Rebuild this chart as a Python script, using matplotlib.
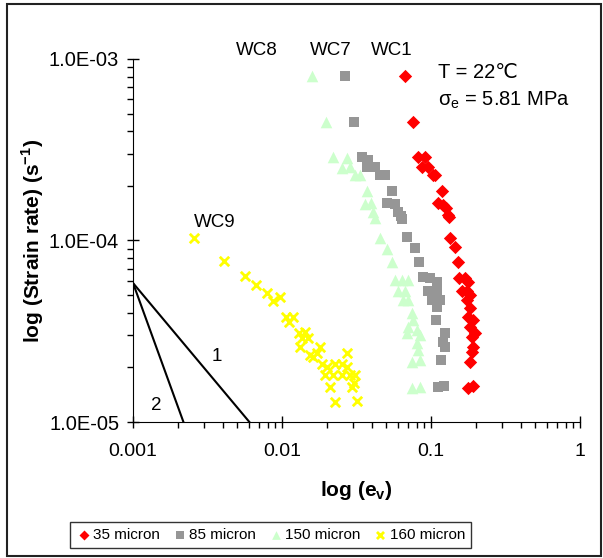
import matplotlib
matplotlib.use('Agg')
import matplotlib.pyplot as plt
from matplotlib.patches import Rectangle
from matplotlib.ticker import LogLocator, FixedLocator, NullFormatter

# 35 micron (WC1)
x35 = [0.067, 0.0754, 0.0818, 0.0911, 0.087, 0.0955, 0.103, 0.106, 0.118,
       0.111, 0.12, 0.127, 0.13, 0.132, 0.134, 0.145, 0.152,
       0.154, 0.169, 0.177, 0.161, 0.174, 0.174, 0.183,
       0.183, 0.177, 0.191, 0.183, 0.197, 0.188, 0.191, 0.188, 0.183,
       0.177, 0.191]
y35 = [8.1e-4, 4.5e-4, 2.88e-4, 2.88e-4, 2.54e-4, 2.54e-4, 2.3e-4, 2.3e-4, 1.87e-4,
       1.61e-4, 1.57e-4, 1.51e-4, 1.38e-4, 1.35e-4, 1.03e-4, 9.2e-5, 7.6e-5,
       6.2e-5, 6.2e-5, 5.9e-5, 5.3e-5, 5.3e-5, 4.7e-5, 5.0e-5,
       4.25e-5, 3.8e-5, 3.65e-5, 3.34e-5, 3.1e-5, 2.94e-5, 2.59e-5, 2.43e-5, 2.14e-5,
       1.54e-5, 1.58e-5]

# 85 micron (WC7)
x85 = [0.0265, 0.0304, 0.0343, 0.038, 0.0373, 0.0421, 0.0455, 0.0491, 0.055,
       0.0504, 0.0573, 0.06, 0.0626, 0.0636, 0.0687, 0.078, 0.0834,
       0.088, 0.0985, 0.1096, 0.0955, 0.1096, 0.1016, 0.1148, 0.1096,
       0.108, 0.124, 0.1205, 0.124, 0.1167, 0.122, 0.1114]
y85 = [8.1e-4, 4.5e-4, 2.9e-4, 2.78e-4, 2.54e-4, 2.54e-4, 2.3e-4, 2.3e-4, 1.88e-4,
       1.61e-4, 1.59e-4, 1.44e-4, 1.36e-4, 1.32e-4, 1.04e-4, 9.06e-5, 7.64e-5,
       6.3e-5, 6.2e-5, 5.9e-5, 5.3e-5, 5.27e-5, 4.7e-5, 4.7e-5, 4.3e-5,
       3.65e-5, 3.1e-5, 2.76e-5, 2.59e-5, 2.2e-5, 1.58e-5, 1.56e-5]

# 150 micron (WC8)
x150 = [0.016, 0.0197, 0.0221, 0.0272, 0.0252, 0.0286, 0.0309, 0.0334, 0.0374,
        0.0361, 0.0394, 0.0406, 0.0421, 0.0455, 0.0504, 0.0545,
        0.0573, 0.0636, 0.0705, 0.0603, 0.067, 0.0652, 0.0705,
        0.0741, 0.076, 0.0705, 0.08, 0.0687, 0.0844, 0.08, 0.082, 0.0741, 0.0844,
        0.0741, 0.0844]
y150 = [8.1e-4, 4.5e-4, 2.9e-4, 2.84e-4, 2.5e-4, 2.55e-4, 2.3e-4, 2.3e-4, 1.88e-4,
        1.59e-4, 1.6e-4, 1.44e-4, 1.33e-4, 1.03e-4, 8.95e-5, 7.6e-5,
        6.05e-5, 6.05e-5, 6.05e-5, 5.3e-5, 5.3e-5, 4.7e-5, 4.7e-5,
        3.97e-5, 3.65e-5, 3.35e-5, 3.21e-5, 3.08e-5, 3.02e-5, 2.71e-5, 2.49e-5, 2.15e-5, 2.2e-5,
        1.53e-5, 1.56e-5]

# 160 micron (WC9)
x160 = [0.00256, 0.00408, 0.00565, 0.00666, 0.00789, 0.00873, 0.0097,
        0.0107, 0.0119, 0.0112, 0.0129, 0.0143, 0.0136, 0.015, 0.0132,
        0.0154, 0.0171, 0.018, 0.0162, 0.0185, 0.02, 0.0227, 0.0252, 0.0272, 0.0272,
        0.0195, 0.0221, 0.0252, 0.0286, 0.0309, 0.021, 0.0293, 0.0302, 0.0227, 0.032]
y160 = [1.03e-4, 7.74e-5, 6.4e-5, 5.69e-5, 5.16e-5, 4.64e-5, 4.9e-5,
        3.8e-5, 3.8e-5, 3.57e-5, 3.08e-5, 3.15e-5, 2.89e-5, 2.89e-5, 2.6e-5,
        2.34e-5, 2.39e-5, 2.6e-5, 2.29e-5, 2.1e-5, 2.02e-5, 2.1e-5, 2.1e-5, 2.4e-5, 2.02e-5,
        1.82e-5, 1.82e-5, 1.82e-5, 1.82e-5, 1.82e-5, 1.56e-5, 1.56e-5, 1.63e-5, 1.29e-5, 1.3e-5]

# reference slope lines
line1_x = [0.001, 0.00604]
line1_y = [5.83e-5, 1e-5]
line2_x = [0.001, 0.00218]
line2_y = [5.83e-5, 1e-5]

plt.rcParams['font.family'] = ['Liberation Sans', 'DejaVu Sans']

fig = plt.figure(figsize=(6.03, 5.58), dpi=100)
ax = fig.add_axes([0.2206, 0.2437, 0.7413, 0.6506])

ax.plot(line1_x, line1_y, color='black', lw=1.5)
ax.plot(line2_x, line2_y, color='black', lw=1.5)

ax.scatter(x35, y35, marker='D', s=46, color='#ff0000', label='35 micron', zorder=3, linewidths=0)
ax.scatter(x85, y85, marker='s', s=58, color='#969696', label='85 micron', zorder=3, linewidths=0)
ax.scatter(x150, y150, marker='^', s=70, color='#ccffcc', label='150 micron', zorder=3, linewidths=0)
ax.scatter(x160, y160, marker='x', s=46, color='#ffff00', label='160 micron', zorder=3, linewidths=2)

ax.set_xscale('log')
ax.set_yscale('log')
ax.set_xlim(0.001, 1)
ax.set_ylim(1e-5, 1e-3)

ax.spines['top'].set_visible(False)
ax.spines['right'].set_visible(False)
ax.xaxis.set_major_locator(FixedLocator([0.001, 0.01, 0.1, 1]))
ax.set_xticklabels(['0.001', '0.01', '0.1', '1'])
ax.yaxis.set_major_locator(FixedLocator([1e-5, 1e-4, 1e-3]))
ax.set_yticklabels(['1.0E-05', '1.0E-04', '1.0E-03'])
ax.xaxis.set_minor_locator(LogLocator(base=10, subs=range(2, 10)))
ax.yaxis.set_minor_locator(LogLocator(base=10, subs=range(2, 10)))
ax.xaxis.set_minor_formatter(NullFormatter())
ax.yaxis.set_minor_formatter(NullFormatter())
ax.tick_params(which='major', direction='inout', length=8, width=1)
ax.tick_params(which='minor', direction='out', length=4, width=1)
ax.tick_params(axis='x', which='major', labelsize=14, pad=11)
ax.tick_params(axis='y', which='major', labelsize=14.5, pad=6)

ax.set_xlabel('log (e$_\\mathregular{v}$)', fontsize=15, fontweight='bold', labelpad=14)
ax.set_ylabel('log (Strain rate) (s$^\\mathregular{-1}$)', fontsize=15, fontweight='bold', labelpad=2)

ax.text(0.00355, 1.26e-4, 'WC9', fontsize=13.5, ha='center', va='center')
ax.text(0.0068, 1.12e-3, 'WC8', fontsize=13.5, ha='center', va='center', clip_on=False)
ax.text(0.0213, 1.12e-3, 'WC7', fontsize=13.5, ha='center', va='center', clip_on=False)
ax.text(0.0547, 1.12e-3, 'WC1', fontsize=13.5, ha='center', va='center', clip_on=False)
ax.text(0.00364, 2.29e-5, '1', fontsize=13.5, ha='center', va='center')
ax.text(0.00144, 1.24e-5, '2', fontsize=13.5, ha='center', va='center')
ax.text(0.112, 8.4e-4, 'T = 22\u2103', fontsize=14.5, ha='left', va='center')
ax.text(0.112, 5.95e-4, '\u03c3$_\\mathregular{e}$ = 5.81 MPa', fontsize=14.5, ha='left', va='center')

leg = fig.legend(loc='center', bbox_to_anchor=(0.449, 0.041), ncol=4, fontsize=11,
                 frameon=True, fancybox=False, edgecolor='black', handletextpad=0.1,
                 columnspacing=0.8, borderpad=0.4, handlelength=1.0, scatterpoints=1,
                 markerscale=0.75)
leg.get_frame().set_linewidth(1)

fig.patches.append(Rectangle((0.012, 0.004), 0.985, 0.988, transform=fig.transFigure,
                             fill=False, edgecolor='#222222', lw=1.5))

fig.savefig('out.png', dpi=100)
